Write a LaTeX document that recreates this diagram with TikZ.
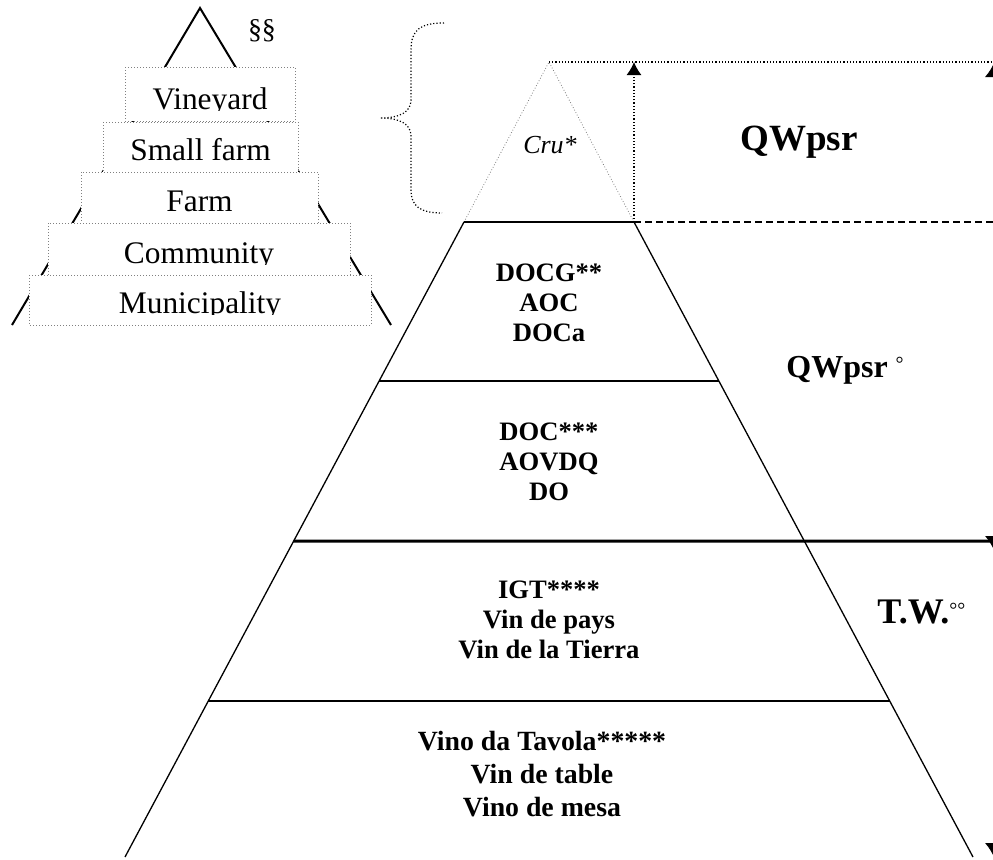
\documentclass[tikz,border=0pt]{standalone}
\usepackage{fontspec}
\setmainfont{Liberation Serif}
\usetikzlibrary{calc,arrows.meta}

\begin{document}
\begin{tikzpicture}[x=0.5pt,y=-0.5pt,
	levelbox/.style={draw=gray, densely dotted, fill=white, line width=0.5pt},
	lvl/.style={font=\fontsize{15.7}{18}\selectfont, anchor=base, inner sep=0},
	grade/.style={font=\bfseries\fontsize{13.3}{15}\selectfont, align=center, inner sep=0},
	uparrow/.style={-{Latex[length=6.5pt,width=7.5pt]}},
	edgetip/.style={{Latex[length=7pt,width=9pt]}-{Latex[length=7pt,width=9pt]}}]
	
	\useasboundingbox (0,0) rectangle (993,859);
	\clip (0,0) rectangle (993,859);
	
	% small pyramid
	\coordinate (sp) at (200,8);
	\coordinate (sl) at (12,325);
	\coordinate (sr) at (391,325);
	\draw[line width=1pt] (sl) -- (sp) -- (sr);
	\node[font=\fontsize{14}{14}\selectfont, inner sep=0] (para) at (262,31) {§§};
	
	\foreach \name/\txt/\xa/\ya/\xb/\yb in {vine/Vineyard/125/67/295/121, small/Small farm/103/122/298/172, farm/Farm/81/172/318/223, comm/Community/48/223/350/275, muni/Municipality/29/275/371/325}{
		\draw[levelbox] (\xa,\ya) rectangle (\xb,\yb);
		\begin{scope}
			\clip (\xa,\ya) rectangle (\xb,\yb-11);
			\node[lvl] (\name) at ({(\xa+\xb)/2},\yb-12) {\txt};
		\end{scope}
	}
	
	% brace
	\draw[densely dotted, line width=0.6pt] (444,23) .. controls (420,23) and (411,30) .. (411,50) -- (411,100) .. controls (411,112) and (400,118) .. (380,118) .. controls (400,118) and (411,124) .. (411,136) -- (411,190) .. controls (411,206) and (420,213) .. (442,213);
	
	% main pyramid
	\coordinate (apex) at (549,62);
	\coordinate (tl) at (464,222);
	\coordinate (tr) at (634,222);
	\coordinate (bl) at (125,857);
	\coordinate (br) at (973,857);
	\coordinate (l1) at ($(tl)!0.2504!(bl)$);
	\coordinate (r1) at ($(tr)!0.2504!(br)$);
	\coordinate (l2) at ($(tl)!0.5024!(bl)$);
	\coordinate (l3) at ($(tl)!0.7543!(bl)$);
	\coordinate (r3) at ($(tr)!0.7543!(br)$);
	\coordinate (etop) at (1000,62);
	\coordinate (emid) at (1000,222);
	\coordinate (elow) at (1000,541);
	
	\draw[gray, densely dotted] (tl) -- (apex) -- (tr);
	\draw[line width=0.65pt] (tl) -- (bl);
	\draw[line width=0.65pt] (tr) -- (br);
	\draw[line width=1pt] (tl) -- (tr);
	\draw[line width=1pt] (l1) -- (r1);
	\draw[line width=1.5pt] (l2) -- (elow);
	\draw[line width=1pt] (l3) -- (r3);
	
	\draw[densely dotted, line width=0.6pt] (apex) -- (etop);
	\draw[densely dotted, line width=0.6pt, uparrow] (tr) -- (tr |- apex);
	\draw[dash pattern=on 3.5pt off 2pt, line width=1pt] (tr) -- (emid);
	
	% arrows at the right edge
	\coordinate (q1) at (994,63);
	\coordinate (q2) at (994,550);
	\coordinate (q3) at (994,857);
	\draw[edgetip] (q1) -- (q2);
	\draw[-{Latex[length=7pt,width=9pt]}] (q2) -- (q3);
	
	% labels
	\node[font=\itshape\fontsize{13}{13}\selectfont, anchor=base, inner sep=0] (cru) at (550,153) {Cru*};
	\node[font=\bfseries\fontsize{18.5}{18.5}\selectfont, anchor=base, inner sep=0] (qw) at (799,150) {QWpsr};
	\node[font=\bfseries\fontsize{16}{16}\selectfont, anchor=base west, inner sep=0] (qwd) at (786,377) {QWpsr\ {\mdseries\fontsize{10}{10}\selectfont\raisebox{3.2pt}{°}}};
	\node[font=\bfseries\fontsize{18}{18}\selectfont, anchor=base west, inner sep=0] (tw) at (877,623) {T.W.{\mdseries\fontsize{10}{10}\selectfont\raisebox{3.2pt}{°°}}};
	
	\node[grade] (docg) at (549,303) {DOCG**\\AOC\\DOCa};
	\node[grade] (doc) at (549,461.5) {DOC***\\AOVDQ\\DO};
	\node[grade] (igt) at (549,619.5) {IGT****\\Vin de pays\\Vin de la Tierra};
	\node[grade, font=\bfseries\fontsize{13.9}{16.7}\selectfont] (vdt) at (542,774) {Vino da Tavola*****\\Vin de table\\Vino de mesa};
	
\end{tikzpicture}
\end{document}
